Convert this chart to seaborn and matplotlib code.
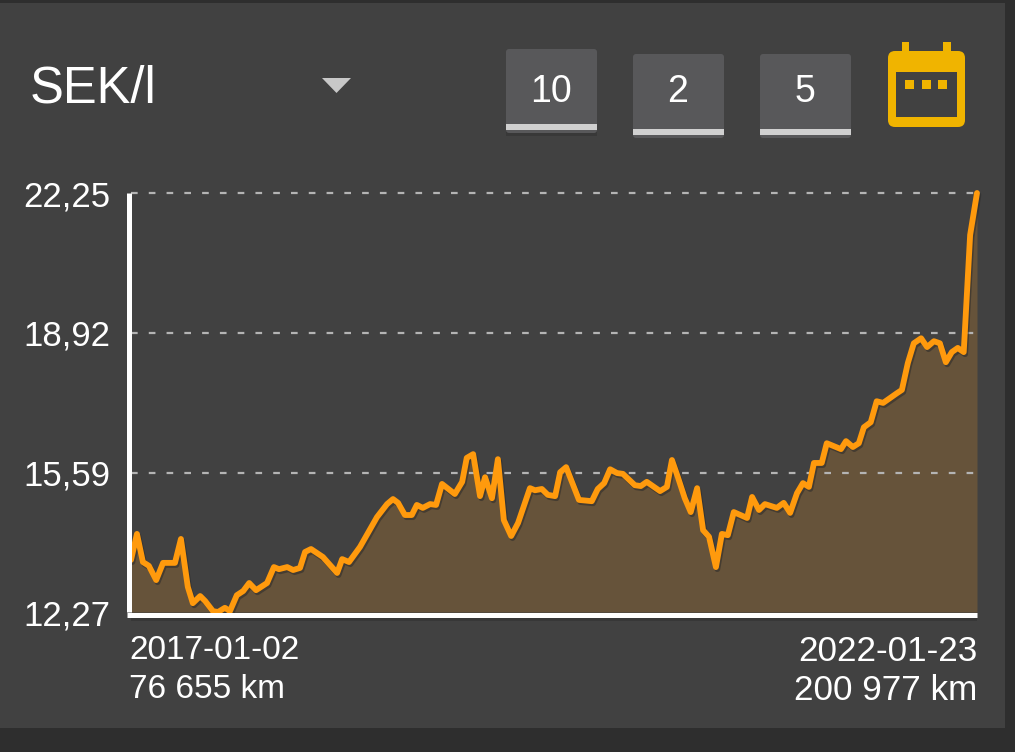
import numpy as np
import pandas as pd
import matplotlib
matplotlib.use('Agg')
import matplotlib.pyplot as plt
import matplotlib.patheffects as pe
from matplotlib.patches import Rectangle, FancyBboxPatch, Polygon
from matplotlib.transforms import ScaledTranslation
import seaborn as sns

# days since the first fill-up, and price per litre
days = [0, 13, 26, 39, 55, 70, 96, 109, 124, 135, 151, 162, 179, 190, 205, 216, 231, 245, 258, 273,
        297, 312, 323, 341, 354, 369, 380, 393, 419, 450, 461, 476, 500, 537, 559, 572, 583, 598, 613, 624,
        637, 653, 666, 679, 707, 723, 733, 747, 762, 773, 788, 801, 814, 830, 845, 871, 882, 897, 910, 926,
        937, 950, 978, 1006, 1019, 1033, 1046, 1061, 1074, 1100, 1113, 1126, 1155, 1170, 1181, 1194, 1209, 1222, 1236, 1249,
        1262, 1277, 1290, 1303, 1316, 1345, 1356, 1371, 1384, 1410, 1425, 1439, 1454, 1467, 1480, 1491, 1508, 1519, 1550, 1561,
        1576, 1589, 1600, 1615, 1628, 1642, 1672, 1683, 1696, 1709, 1725, 1738, 1753, 1766, 1779, 1792, 1805, 1818, 1832, 1847]
price = [13.51, 14.13, 13.46, 13.37, 13.03, 13.44, 13.44, 14.01, 12.87, 12.48, 12.65, 12.53, 12.29, 12.27, 12.37, 12.29, 12.67, 12.77, 12.96, 12.79,
         12.96, 13.34, 13.29, 13.34, 13.27, 13.32, 13.70, 13.77, 13.58, 13.20, 13.53, 13.46, 13.82, 14.53, 14.84, 14.96, 14.87, 14.58, 14.58, 14.82,
         14.75, 14.84, 14.82, 15.32, 15.08, 15.37, 15.94, 16.03, 15.03, 15.48, 14.98, 15.91, 14.46, 14.08, 14.39, 15.22, 15.17, 15.20, 15.06, 15.03,
         15.60, 15.72, 14.94, 14.91, 15.20, 15.34, 15.67, 15.58, 15.56, 15.29, 15.27, 15.37, 15.15, 15.25, 15.89, 15.48, 14.98, 14.65, 15.22, 14.22,
         14.06, 13.34, 14.13, 14.10, 14.65, 14.51, 15.01, 14.70, 14.84, 14.75, 14.87, 14.63, 15.10, 15.34, 15.25, 15.82, 15.82, 16.29, 16.15, 16.34,
         16.20, 16.29, 16.67, 16.79, 17.29, 17.25, 17.48, 17.56, 18.20, 18.67, 18.79, 18.58, 18.72, 18.67, 18.22, 18.46, 18.56, 18.46, 21.25, 22.25]

y_ticks = [12.27, 15.59, 18.92, 22.25]
y_labels = ['12,27', '15,59', '18,92', '22,25']
x_ticks = [0, 1847]
x_labels = ['2017-01-02\n76 655 km', '2022-01-23\n200 977 km']
buttons = ['10', '2', '5']
title = 'SEK/l'

W, H = 1015, 752
sns.set_theme(style='dark')
plt.rcParams['font.family'] = ['Liberation Sans', 'DejaVu Sans']

fig = plt.figure(figsize=(W / 100, H / 100), dpi=100, facecolor='#2e2e2e')

# pixel canvas for the app chrome behind the chart
bg = fig.add_axes([0, 0, 1, 1], zorder=0)
bg.set_xlim(0, W)
bg.set_ylim(H, 0)
bg.axis('off')
bg.add_patch(Rectangle((0, 3), 1005, 725, color='#414141', lw=0))
bg.add_patch(Rectangle((131, 617), 846, 4, color='#373737', lw=0))
bg.text(30, 89, title, color='white', fontsize=36.5, va='center', ha='left')
bg.add_patch(Polygon([(322, 78), (351, 78), (336.5, 93)], color='#c8c8c8', lw=0))

for label, left, top in zip(buttons, [506, 633, 760], [49, 54, 54]):
    bg.add_patch(Rectangle((left, top + 81), 91, 136 - top - 81, color='#383838', lw=0))
    bg.add_patch(FancyBboxPatch((left + 3, top + 3), 85, 78, boxstyle='round,pad=3',
                                fc='#58585a', ec='none'))
    bg.add_patch(Rectangle((left, top + 75), 91, 6, color='#d0d0d0', lw=0))
    bg.text(left + 45, 91.5, label, color='white', fontsize=27, ha='center', va='center')

# calendar icon
gold = '#f0b400'
bg.add_patch(FancyBboxPatch((895, 58), 63, 62, boxstyle='round,pad=7', fc=gold, ec='none'))
bg.add_patch(Rectangle((902, 42), 7, 12, color=gold, lw=0))
bg.add_patch(Rectangle((943, 42), 8, 12, color=gold, lw=0))
bg.add_patch(Rectangle((896, 72), 61, 45, color='#414141', lw=0))
for left in [905, 922, 938]:
    bg.add_patch(Rectangle((left, 80), 9, 9, color=gold, lw=0))

# chart
df = pd.DataFrame({'days': days, 'price': price})
ax = fig.add_axes([131 / W, 1 - 612 / H, 846 / W, 419 / H], zorder=1)
ax.set_facecolor('none')

# spines first: set_position resets the ticks
for side in ['top', 'right']:
    ax.spines[side].set_visible(False)
for side, out in [('left', 1.1), ('bottom', 1.8)]:
    ax.spines[side].set_color('white')
    ax.spines[side].set_linewidth(3.6)
    ax.spines[side].set_position(('outward', out))
    ax.spines[side].set_capstyle('butt')
    ax.spines[side].set_zorder(5)

ax.fill_between(df['days'], df['price'], y_ticks[0], color='#66533a', lw=0, zorder=1)
for tick in y_ticks[1:]:
    ax.axhline(tick, color='#b4b4b4', lw=1.6, dashes=(3, 5), dash_capstyle='butt', zorder=2,
               clip_on=False)
sns.lineplot(data=df, x='days', y='price', ax=ax, color='#ff9a0d', lw=4.2, errorbar=None,
             zorder=3, clip_on=False, solid_joinstyle='round', solid_capstyle='round',
             path_effects=[pe.SimpleLineShadow(offset=(1, -1.5), shadow_color='#2a2a2a', alpha=0.55),
                           pe.Normal()])
ax.set_xlim(0, 1847)
ax.set_ylim(12.27, 22.25)
ax.spines['bottom'].set_bounds(-9, 1847)
ax.set_xlabel('')
ax.set_ylabel('')
ax.set_yticks(y_ticks, y_labels)
ax.set_xticks(x_ticks, x_labels)
ax.grid(False)
ax.tick_params(axis='both', length=0, colors='white')
ax.tick_params(axis='y', labelsize=25, pad=14)
ax.tick_params(axis='x', labelsize=24, pad=15)
for lab in ax.get_yticklabels():
    lab.set_va('center_baseline')
xlabels = ax.get_xticklabels()
xlabels[0].set_ha('left')
xlabels[1].set_ha('right')
xlabels[0].set_multialignment('left')
xlabels[1].set_multialignment('right')
xlabels[1].set_fontsize(25.3)
xlabels[0].set_transform(xlabels[0].get_transform() + ScaledTranslation(-2 / 100, 0, fig.dpi_scale_trans))
xlabels[0].set_linespacing(1.32)
xlabels[1].set_linespacing(1.2)

fig.savefig('out.png', dpi=100, facecolor=fig.get_facecolor())
